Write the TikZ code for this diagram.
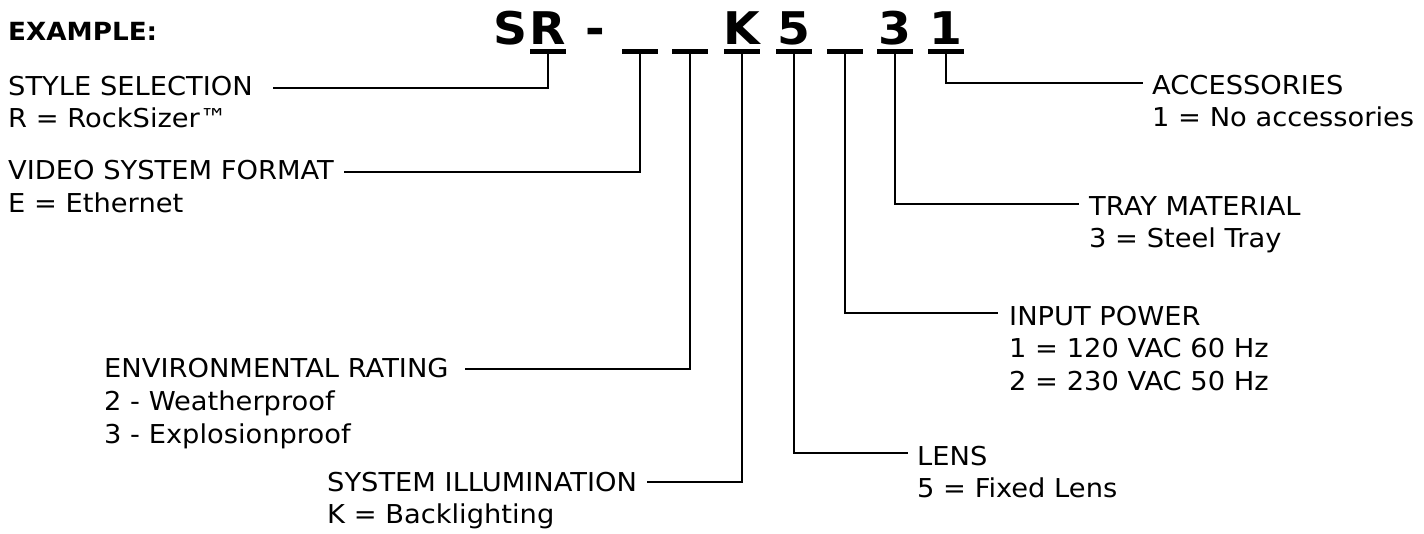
\documentclass[tikz,border=0pt]{standalone}
\usepackage{fontspec}
\setmainfont{DejaVu Sans}[FakeStretch=1.05]
\begin{document}
\begin{tikzpicture}[x=1pt,y=-1pt,
  lbl/.style={anchor=base west, inner sep=0pt, font=\fontsize{26}{32}\selectfont},
  hdr/.style={anchor=base west, inner sep=0pt, font=\fontsize{25}{30}\selectfont\bfseries},
  big/.style={anchor=base, inner sep=0pt, font=\fontsize{45}{50}\selectfont\bfseries},
  uline/.style={fill=black, inner sep=0pt, minimum width=36pt, minimum height=4.5pt},
  conn/.style={line width=2.4pt}]
\useasboundingbox (0,0) rectangle (1424,533);
% header
\node[hdr] (ex) at (8,40) {EXAMPLE:};
% model code characters
\node[big] (chS) at (511,44) {S};
\node[big] (chR) at (548,44) {R};
\node[big] (chD) at (595,44) {-};
\node[big] (chK) at (742,44) {K};
\node[big] (ch5) at (794,44) {5};
\node[big] (ch3) at (895,44) {3};
\node[big] (ch1) at (946,44) {1};
% underlines
\node[uline] (u1) at (548,51.5) {};
\node[uline] (u2) at (640,51.5) {};
\node[uline] (u3) at (690,51.5) {};
\node[uline] (u4) at (742,51.5) {};
\node[uline] (u5) at (794,51.5) {};
\node[uline] (u6) at (845,51.5) {};
\node[uline] (u7) at (895,51.5) {};
\node[uline] (u8) at (946,51.5) {};
% connector ends
\coordinate (c1) at (273,88);
\coordinate (c2) at (344,172);
\coordinate (c3) at (465,369);
\coordinate (c4) at (647,482);
\coordinate (c5) at (908,453);
\coordinate (c6) at (998,313);
\coordinate (c7) at (1079,204);
\coordinate (c8) at (1143,83);
% labels
\node[lbl] (style1) at (8,95) {STYLE SELECTION};
\node[lbl] (style2) at (8,127) {R = RockSizer™};
\node[lbl] (vid1) at (8,179) {VIDEO SYSTEM FORMAT};
\node[lbl] (vid2) at (8,212) {E = Ethernet};
\node[lbl] (env1) at (104,377) {ENVIRONMENTAL RATING};
\node[lbl] (env2) at (104,410) {2 - Weatherproof};
\node[lbl] (env3) at (104,443) {3 - Explosionproof};
\node[lbl] (ill1) at (327,491) {SYSTEM ILLUMINATION};
\node[lbl] (ill2) at (327,523) {K = Backlighting};
\node[lbl] (lens1) at (917,465) {LENS};
\node[lbl] (lens2) at (917,497) {5 = Fixed Lens};
\node[lbl] (pow1) at (1009,325) {INPUT POWER};
\node[lbl] (pow2) at (1009,357) {1 = 120 VAC 60 Hz};
\node[lbl] (pow3) at (1009,390) {2 = 230 VAC 50 Hz};
\node[lbl] (tray1) at (1089,215) {TRAY MATERIAL};
\node[lbl] (tray2) at (1089,247) {3 = Steel Tray};
\node[lbl] (acc1) at (1152,94) {ACCESSORIES};
\node[lbl] (acc2) at (1152,126) {1 = No accessories};
% connectors
\draw[conn] (u1.south) |- (c1);
\draw[conn] (u2.south) |- (c2);
\draw[conn] (u3.south) |- (c3);
\draw[conn] (u4.south) |- (c4);
\draw[conn] (u5.south) |- (c5);
\draw[conn] (u6.south) |- (c6);
\draw[conn] (u7.south) |- (c7);
\draw[conn] (u8.south) |- (c8);
\end{tikzpicture}
\end{document}
